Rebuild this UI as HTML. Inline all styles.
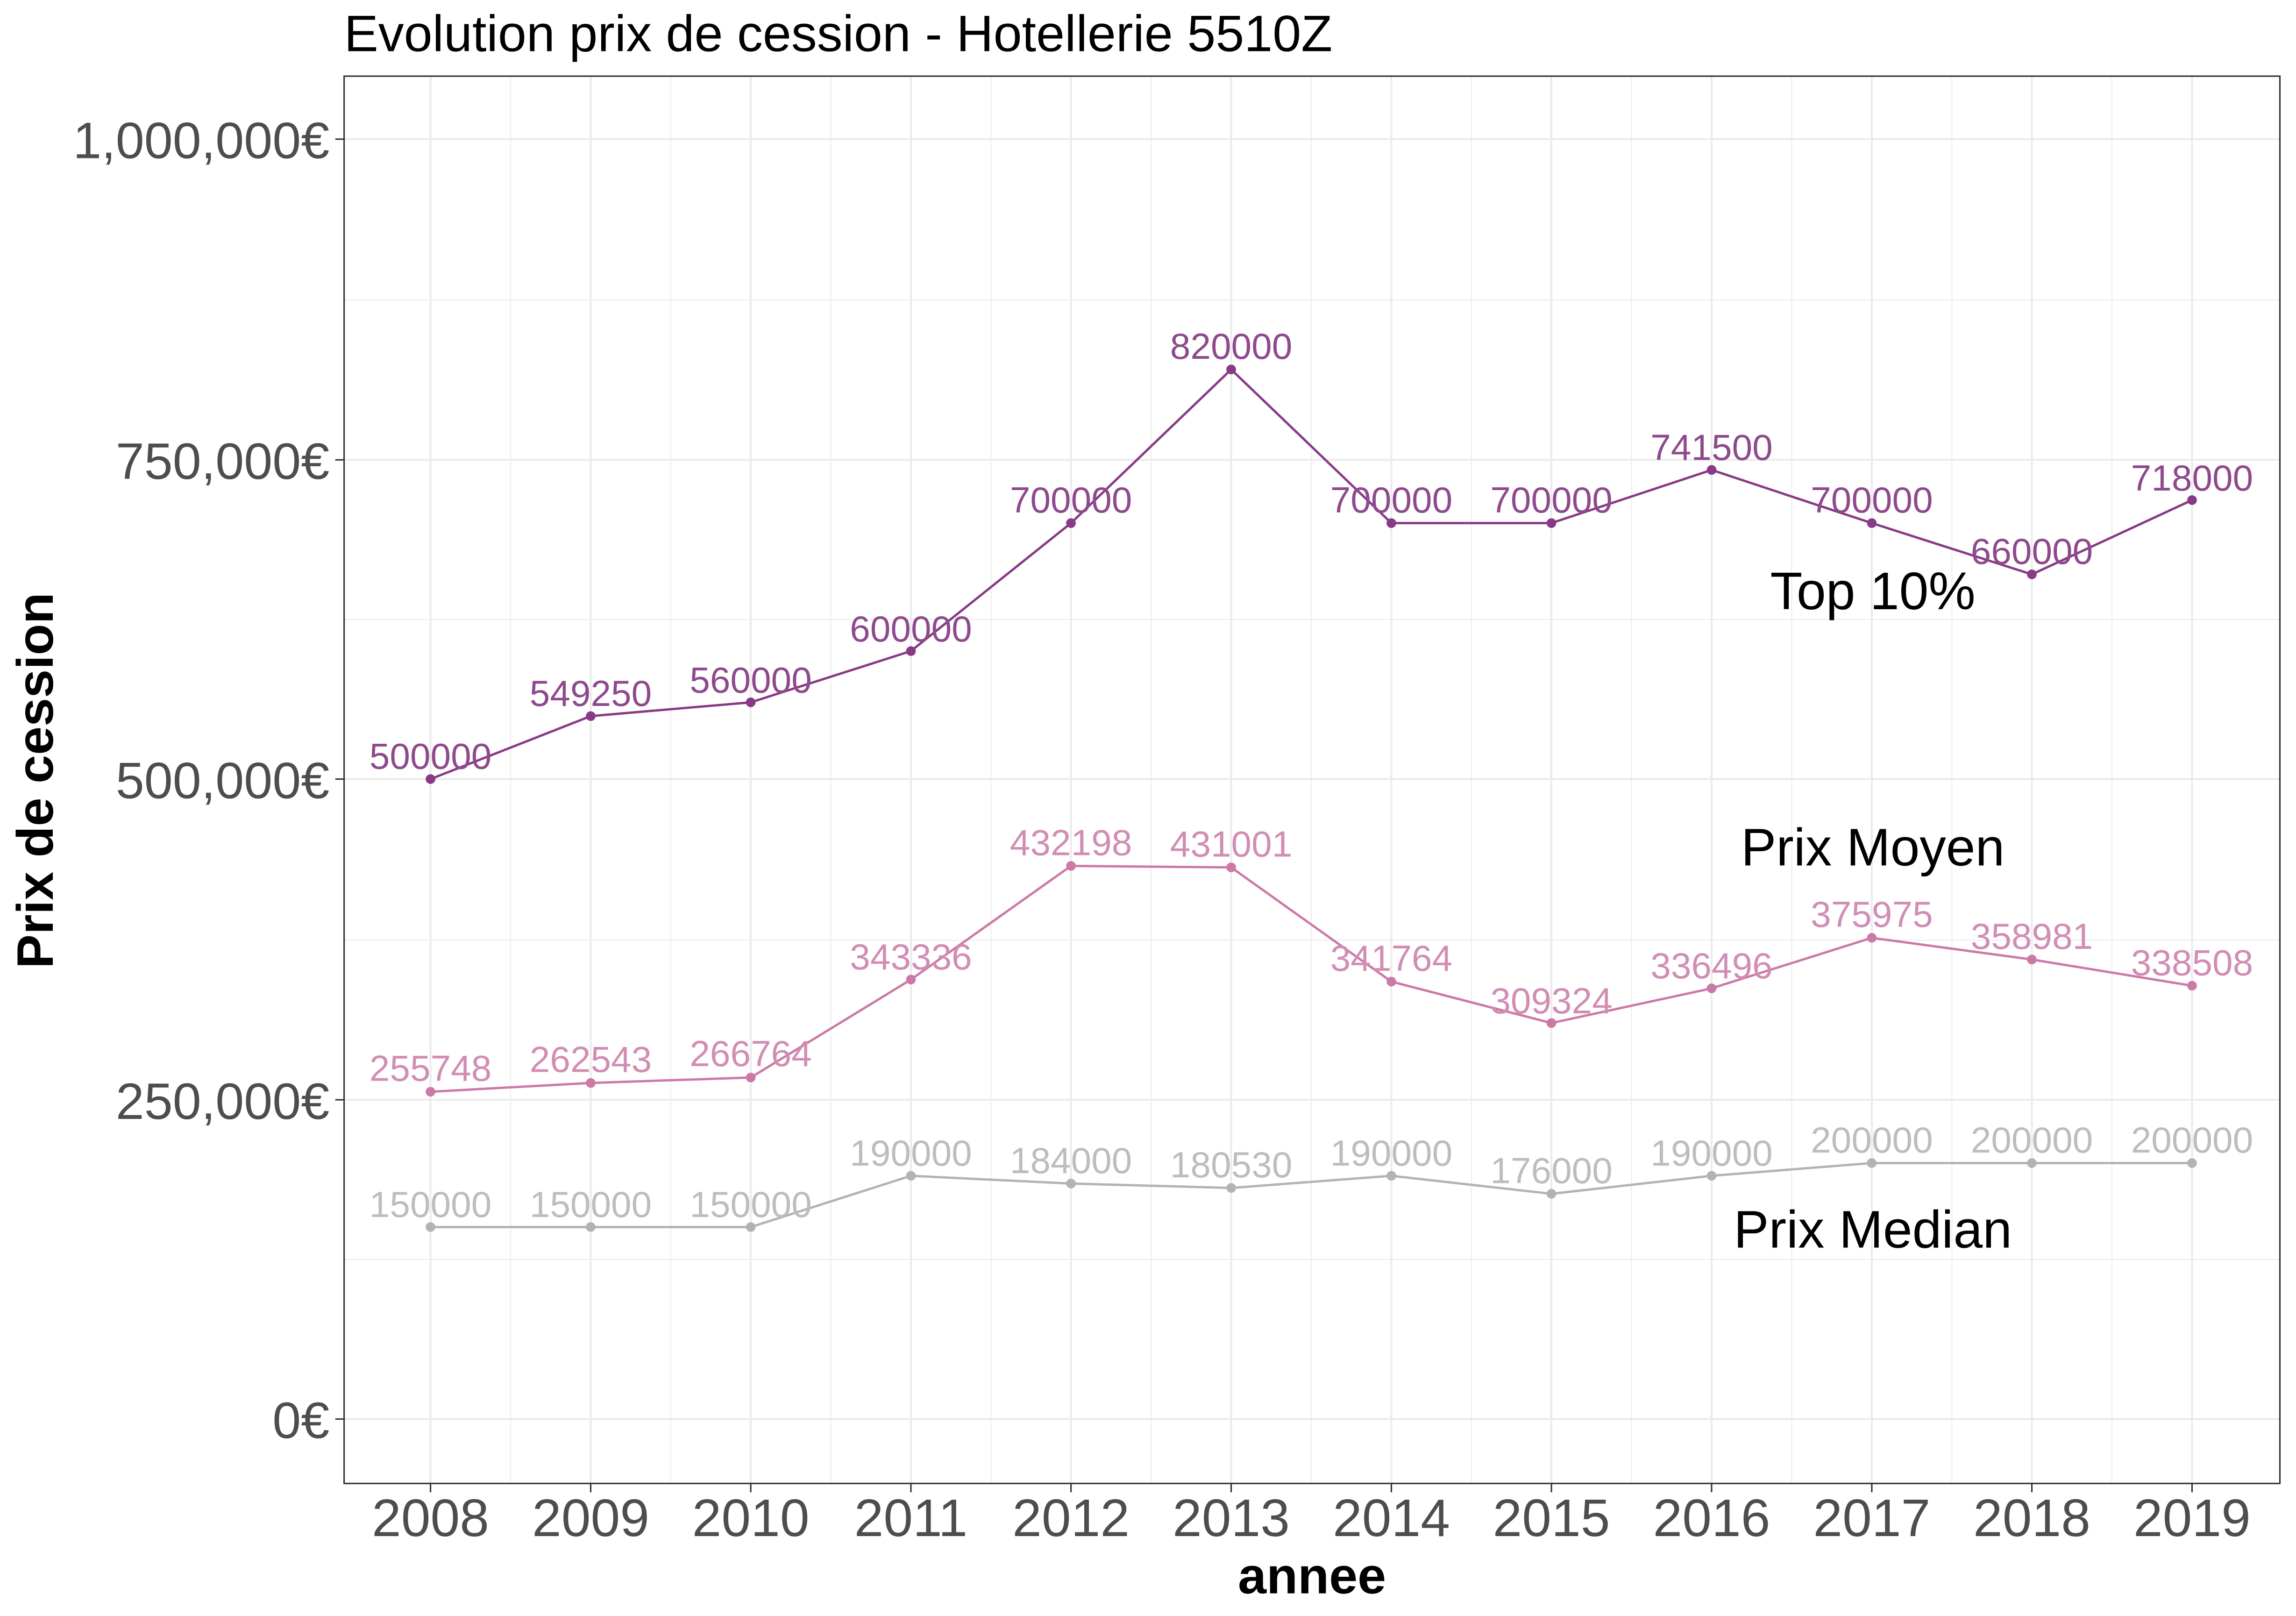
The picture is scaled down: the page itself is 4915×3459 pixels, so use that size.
<!DOCTYPE html>
<html><head><meta charset="utf-8"><style>html,body{margin:0;padding:0;background:#fff}svg{display:block}</style></head>
<body>
<svg width="4915" height="3459" viewBox="0 0 1568 1103.5" preserveAspectRatio="none" xmlns="http://www.w3.org/2000/svg" font-family="Liberation Sans, Arial, sans-serif">
<rect x="0" y="0" width="1568" height="1103.5" fill="#fff"/>
<g stroke="#EBEBEB" stroke-width="0.6">
<line x1="235" x2="1557" y1="860" y2="860"/><line x1="235" x2="1557" y1="642" y2="642"/><line x1="235" x2="1557" y1="423" y2="423"/><line x1="235" x2="1557" y1="205" y2="205"/>
<line y1="52" y2="1013" x1="348.7" x2="348.7"/><line y1="52" y2="1013" x1="458" x2="458"/><line y1="52" y2="1013" x1="567.4" x2="567.4"/><line y1="52" y2="1013" x1="676.8" x2="676.8"/><line y1="52" y2="1013" x1="786.1" x2="786.1"/><line y1="52" y2="1013" x1="895.5" x2="895.5"/><line y1="52" y2="1013" x1="1004.9" x2="1004.9"/><line y1="52" y2="1013" x1="1114.2" x2="1114.2"/><line y1="52" y2="1013" x1="1223.6" x2="1223.6"/><line y1="52" y2="1013" x1="1333" x2="1333"/><line y1="52" y2="1013" x1="1442.3" x2="1442.3"/>
</g>
<g stroke="#EBEBEB" stroke-width="1.3">
<line x1="235" x2="1557" y1="969" y2="969"/><line x1="235" x2="1557" y1="751" y2="751"/><line x1="235" x2="1557" y1="532" y2="532"/><line x1="235" x2="1557" y1="314" y2="314"/><line x1="235" x2="1557" y1="95" y2="95"/>
<line y1="52" y2="1013" x1="294" x2="294"/><line y1="52" y2="1013" x1="403.4" x2="403.4"/><line y1="52" y2="1013" x1="512.7" x2="512.7"/><line y1="52" y2="1013" x1="622.1" x2="622.1"/><line y1="52" y2="1013" x1="731.4" x2="731.4"/><line y1="52" y2="1013" x1="840.8" x2="840.8"/><line y1="52" y2="1013" x1="950.2" x2="950.2"/><line y1="52" y2="1013" x1="1059.5" x2="1059.5"/><line y1="52" y2="1013" x1="1168.9" x2="1168.9"/><line y1="52" y2="1013" x1="1278.3" x2="1278.3"/><line y1="52" y2="1013" x1="1387.6" x2="1387.6"/><line y1="52" y2="1013" x1="1497" x2="1497"/>
</g>
<rect x="235" y="52" width="1322" height="961" fill="none" stroke="#333" stroke-width="1"/>
<polyline fill="none" stroke="#B3B3B3" stroke-width="1.6" points="294,837.9 403.4,837.9 512.7,837.9 622.1,802.9 731.4,808.2 840.8,811.2 950.2,802.9 1059.5,815.2 1168.9,802.9 1278.3,794.2 1387.6,794.2 1497,794.2"/>
<g fill="#B3B3B3"><circle cx="294" cy="837.9" r="3.3"/><circle cx="403.4" cy="837.9" r="3.3"/><circle cx="512.7" cy="837.9" r="3.3"/><circle cx="622.1" cy="802.9" r="3.3"/><circle cx="731.4" cy="808.2" r="3.3"/><circle cx="840.8" cy="811.2" r="3.3"/><circle cx="950.2" cy="802.9" r="3.3"/><circle cx="1059.5" cy="815.2" r="3.3"/><circle cx="1168.9" cy="802.9" r="3.3"/><circle cx="1278.3" cy="794.2" r="3.3"/><circle cx="1387.6" cy="794.2" r="3.3"/><circle cx="1497" cy="794.2" r="3.3"/></g>
<g fill="#BDBDBD" font-size="25" text-anchor="middle">
<text x="294" y="831">150000</text><text x="403.4" y="831">150000</text><text x="512.7" y="831">150000</text><text x="622.1" y="796">190000</text><text x="731.4" y="801">184000</text><text x="840.8" y="804">180530</text><text x="950.2" y="796">190000</text><text x="1059.5" y="808">176000</text><text x="1168.9" y="796">190000</text><text x="1278.3" y="787">200000</text><text x="1387.6" y="787">200000</text><text x="1497" y="787">200000</text>
</g>
<polyline fill="none" stroke="#CC79A7" stroke-width="1.6" points="294,745.5 403.4,739.5 512.7,735.8 622.1,668.9 731.4,591.3 840.8,592.3 950.2,670.3 1059.5,698.6 1168.9,674.9 1278.3,640.4 1387.6,655.2 1497,673.1"/>
<g fill="#CC79A7"><circle cx="294" cy="745.5" r="3.3"/><circle cx="403.4" cy="739.5" r="3.3"/><circle cx="512.7" cy="735.8" r="3.3"/><circle cx="622.1" cy="668.9" r="3.3"/><circle cx="731.4" cy="591.3" r="3.3"/><circle cx="840.8" cy="592.3" r="3.3"/><circle cx="950.2" cy="670.3" r="3.3"/><circle cx="1059.5" cy="698.6" r="3.3"/><circle cx="1168.9" cy="674.9" r="3.3"/><circle cx="1278.3" cy="640.4" r="3.3"/><circle cx="1387.6" cy="655.2" r="3.3"/><circle cx="1497" cy="673.1" r="3.3"/></g>
<g fill="#D28DB5" font-size="25" text-anchor="middle">
<text x="294" y="738">255748</text><text x="403.4" y="732">262543</text><text x="512.7" y="728">266764</text><text x="622.1" y="662">343336</text><text x="731.4" y="584">432198</text><text x="840.8" y="585">431001</text><text x="950.2" y="663">341764</text><text x="1059.5" y="692">309324</text><text x="1168.9" y="668">336496</text><text x="1278.3" y="633">375975</text><text x="1387.6" y="648">358981</text><text x="1497" y="666">338508</text>
</g>
<polyline fill="none" stroke="#883A86" stroke-width="1.6" points="294,532 403.4,489 512.7,479.6 622.1,444.6 731.4,357.2 840.8,252.3 950.2,357.2 1059.5,357.2 1168.9,320.9 1278.3,357.2 1387.6,392.2 1497,341.5"/>
<g fill="#883A86"><circle cx="294" cy="532" r="3.3"/><circle cx="403.4" cy="489" r="3.3"/><circle cx="512.7" cy="479.6" r="3.3"/><circle cx="622.1" cy="444.6" r="3.3"/><circle cx="731.4" cy="357.2" r="3.3"/><circle cx="840.8" cy="252.3" r="3.3"/><circle cx="950.2" cy="357.2" r="3.3"/><circle cx="1059.5" cy="357.2" r="3.3"/><circle cx="1168.9" cy="320.9" r="3.3"/><circle cx="1278.3" cy="357.2" r="3.3"/><circle cx="1387.6" cy="392.2" r="3.3"/><circle cx="1497" cy="341.5" r="3.3"/></g>
<g fill="#8E4A8C" font-size="25" text-anchor="middle">
<text x="294" y="525">500000</text><text x="403.4" y="482">549250</text><text x="512.7" y="473">560000</text><text x="622.1" y="438">600000</text><text x="731.4" y="350">700000</text><text x="840.8" y="245">820000</text><text x="950.2" y="350">700000</text><text x="1059.5" y="350">700000</text><text x="1168.9" y="314">741500</text><text x="1278.3" y="350">700000</text><text x="1387.6" y="385">660000</text><text x="1497" y="335">718000</text>
</g>
<g fill="#000" font-size="36" text-anchor="middle">
<text x="1279" y="416">Top 10%</text><text x="1279" y="591">Prix Moyen</text><text x="1279" y="852">Prix Median</text>
</g>
<g stroke="#333" stroke-width="1">
<line x1="229" x2="235" y1="969" y2="969"/><line x1="229" x2="235" y1="751" y2="751"/><line x1="229" x2="235" y1="532" y2="532"/><line x1="229" x2="235" y1="314" y2="314"/><line x1="229" x2="235" y1="95" y2="95"/>
<line y1="1013" y2="1019" x1="294" x2="294"/><line y1="1013" y2="1019" x1="403.4" x2="403.4"/><line y1="1013" y2="1019" x1="512.7" x2="512.7"/><line y1="1013" y2="1019" x1="622.1" x2="622.1"/><line y1="1013" y2="1019" x1="731.4" x2="731.4"/><line y1="1013" y2="1019" x1="840.8" x2="840.8"/><line y1="1013" y2="1019" x1="950.2" x2="950.2"/><line y1="1013" y2="1019" x1="1059.5" x2="1059.5"/><line y1="1013" y2="1019" x1="1168.9" x2="1168.9"/><line y1="1013" y2="1019" x1="1278.3" x2="1278.3"/><line y1="1013" y2="1019" x1="1387.6" x2="1387.6"/><line y1="1013" y2="1019" x1="1497" x2="1497"/>
</g>
<g fill="#4D4D4D" font-size="35" text-anchor="end">
<text x="225" y="982">0€</text><text x="225" y="764">250,000€</text><text x="225" y="545">500,000€</text><text x="225" y="327">750,000€</text><text x="225" y="108">1,000,000€</text>
</g>
<g fill="#4D4D4D" font-size="36" text-anchor="middle">
<text x="294" y="1049">2008</text><text x="403.4" y="1049">2009</text><text x="512.7" y="1049">2010</text><text x="622.1" y="1049">2011</text><text x="731.4" y="1049">2012</text><text x="840.8" y="1049">2013</text><text x="950.2" y="1049">2014</text><text x="1059.5" y="1049">2015</text><text x="1168.9" y="1049">2016</text><text x="1278.3" y="1049">2017</text><text x="1387.6" y="1049">2018</text><text x="1497" y="1049">2019</text>
</g>
<text x="896" y="1088" font-size="35" font-weight="bold" text-anchor="middle">annee</text>
<text x="0" y="0" font-size="35" font-weight="bold" text-anchor="middle" transform="translate(36,533) rotate(-90)">Prix de cession</text>
<text x="235" y="35" font-size="35" fill="#000">Evolution prix de cession - Hotellerie 5510Z</text>
</svg>
</body></html>
